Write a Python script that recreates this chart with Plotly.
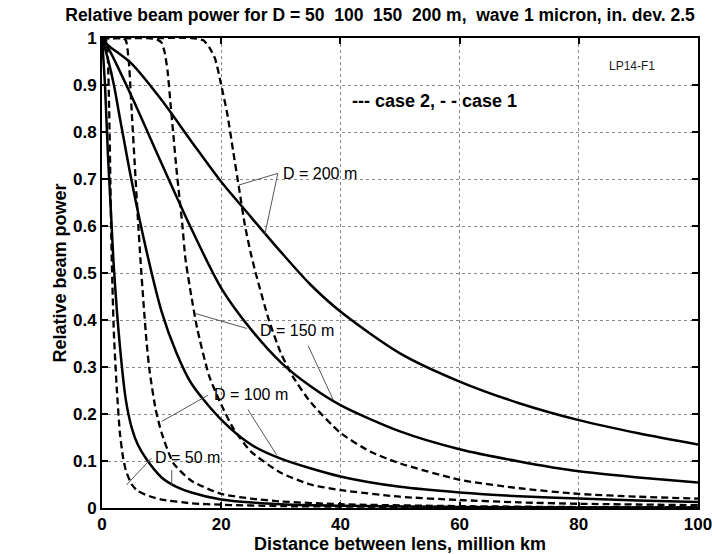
import plotly.graph_objects as go

# ---------------- data ----------------
x_ticks = [0, 20, 40, 60, 80, 100]
x_tick_labels = ['0', '20', '40', '60', '80', '100']
y_ticks = [0, 0.1, 0.2, 0.3, 0.4, 0.5, 0.6, 0.7, 0.8, 0.9, 1.0]
y_tick_labels = ['0', '0.1', '0.2', '0.3', '0.4', '0.5', '0.6', '0.7', '0.8', '0.9', '1']

# case 2 (solid)
c2_d200_x = [0, 1, 5, 10, 15, 20, 25, 30, 35, 40, 50, 60, 70, 80, 90, 100]
c2_d200_y = [1.0, 0.985, 0.945, 0.868, 0.78, 0.694, 0.619, 0.545, 0.475, 0.418, 0.329, 0.269, 0.223, 0.187, 0.159, 0.135]

c2_d150_x = [0, 1, 5, 10, 15, 20, 25, 30, 35, 40, 50, 60, 70, 80, 90, 100]
c2_d150_y = [1.0, 0.98, 0.875, 0.733, 0.594, 0.468, 0.38, 0.31, 0.259, 0.219, 0.163, 0.125, 0.099, 0.078, 0.065, 0.054]

c2_d100_x = [0, 1, 2, 3, 5, 7.5, 10, 12.5, 15, 20, 25, 30, 40, 50, 60, 70, 80, 90, 100]
c2_d100_y = [1.0, 0.955, 0.9, 0.83, 0.694, 0.545, 0.418, 0.33, 0.265, 0.188, 0.135, 0.105, 0.067, 0.045, 0.033, 0.025, 0.02, 0.016, 0.013]

c2_d50_x = [0, 0.5, 1, 1.5, 2, 3, 4, 5, 6, 7.5, 10, 12.5, 15, 20, 30, 40, 60, 80, 100]
c2_d50_y = [1.0, 0.9, 0.75, 0.63, 0.51, 0.345, 0.23, 0.17, 0.135, 0.103, 0.065, 0.045, 0.033, 0.018, 0.008, 0.005, 0.002, 0.0013, 0.001]

# case 1 (dashed)
c1_d200_x = [0, 10, 15, 17, 18, 19, 20, 21, 22, 23, 24, 25, 26, 28, 30, 32, 35, 40, 45, 50, 60, 70, 80, 90, 100]
c1_d200_y = [1, 1, 1, 0.995, 0.98, 0.955, 0.90, 0.84, 0.76, 0.68, 0.60, 0.54, 0.49, 0.40, 0.33, 0.28, 0.225, 0.16, 0.12, 0.095, 0.06, 0.042, 0.03, 0.024, 0.02]

c1_d150_x = [0, 5, 8, 9.5, 10, 10.5, 11, 11.5, 12, 12.5, 13, 13.5, 14, 15, 16, 18, 20, 22, 25, 30, 35, 40, 50, 60, 70, 80, 100]
c1_d150_y = [1, 1, 1, 0.995, 0.99, 0.97, 0.93, 0.86, 0.79, 0.72, 0.66, 0.60, 0.53, 0.45, 0.38, 0.28, 0.22, 0.17, 0.12, 0.075, 0.05, 0.038, 0.024, 0.017, 0.012, 0.009, 0.006]

c1_d100_x = [0, 2, 3.5, 4, 4.5, 5, 5.5, 6, 6.5, 7, 7.5, 8, 9, 10, 12, 15, 20, 25, 30, 40, 60, 80, 100]
c1_d100_y = [1, 1, 1, 0.995, 0.95, 0.84, 0.73, 0.62, 0.52, 0.43, 0.35, 0.29, 0.21, 0.16, 0.095, 0.058, 0.03, 0.02, 0.014, 0.008, 0.004, 0.002, 0.0015]

c1_d50_x = [0, 0.5, 0.8, 1.0, 1.2, 1.4, 1.6, 1.8, 2, 2.5, 3, 3.5, 4, 5, 6, 8, 10, 15, 20, 30, 40, 60, 100]
c1_d50_y = [1, 1, 0.99, 0.95, 0.85, 0.70, 0.55, 0.45, 0.37, 0.25, 0.16, 0.11, 0.08, 0.05, 0.036, 0.025, 0.018, 0.01, 0.007, 0.004, 0.003, 0.002, 0.001]

# labels with leader lines: (text, text_x, text_y, [(x0,y0,x1,y1), ...])
labels = [
    ('D = 200 m', 30.1, 0.712, [(29.5, 0.712, 22.9, 0.687), (29.5, 0.712, 27.3, 0.581)]),
    ('D = 150 m', 26.2, 0.377, [(24.3, 0.382, 15.6, 0.414), (34.6, 0.345, 38.8, 0.230)]),
    ('D = 100 m', 18.4, 0.242, [(17.8, 0.240, 10.0, 0.184), (24.5, 0.209, 29.3, 0.113)]),
    ('D = 50 m', 8.6, 0.107, [(8.3, 0.106, 4.1, 0.049), (11.7, 0.081, 11.7, 0.049)]),
]

FONT = 'Liberation Sans, Arial, sans-serif'

fig = go.Figure()

solid = [(c2_d200_x, c2_d200_y), (c2_d150_x, c2_d150_y), (c2_d100_x, c2_d100_y), (c2_d50_x, c2_d50_y)]
dashed = [(c1_d200_x, c1_d200_y), (c1_d150_x, c1_d150_y), (c1_d100_x, c1_d100_y), (c1_d50_x, c1_d50_y)]

for xs, ys in solid:
    fig.add_trace(go.Scatter(x=xs, y=ys, mode='lines',
                             line=dict(color='black', width=2.5, shape='spline', smoothing=0.8),
                             showlegend=False, hoverinfo='skip'))
for xs, ys in dashed:
    fig.add_trace(go.Scatter(x=xs, y=ys, mode='lines',
                             line=dict(color='black', width=2.3, dash='7px,4px', shape='spline', smoothing=0.6),
                             showlegend=False, hoverinfo='skip'))

for text, tx, ty, leaders in labels:
    for (x0, y0, x1, y1) in leaders:
        fig.add_shape(type='line', x0=x0, y0=y0, x1=x1, y1=y1, xref='x', yref='y',
                      line=dict(color='#555555', width=1))
    fig.add_annotation(x=tx, y=ty, text=text, showarrow=False, xanchor='left', yanchor='middle',
                       font=dict(family=FONT, size=16, color='black'), bgcolor='rgba(0,0,0,0)')

fig.add_annotation(x=41.6, y=0.866, text='--- case 2, - - case 1', showarrow=False,
                   xanchor='left', yanchor='middle',
                   font=dict(family=FONT, size=18, color='black', weight='bold'))
fig.add_annotation(x=89, y=0.94, text='LP14-F1', showarrow=False,
                   xanchor='center', yanchor='middle',
                   font=dict(family=FONT, size=12, color='#222222'))

axis_common = dict(showline=True, linecolor='black', linewidth=2, mirror='ticks',
                   ticks='inside', ticklen=6, tickwidth=1.5, tickcolor='black',
                   showgrid=True, gridcolor='#888888', gridwidth=1, griddash='dot',
                   zeroline=False, automargin=False, ticklabeloverflow='allow',
                   tickfont=dict(family=FONT, size=17, color='black', weight='bold'))

fig.update_xaxes(range=[0, 100], tickvals=x_ticks, ticktext=x_tick_labels,
                 title=dict(text='Distance between lens, million km', standoff=2,
                            font=dict(family=FONT, size=18, color='black', weight='bold')),
                 **axis_common)
fig.update_yaxes(range=[0, 1], tickvals=y_ticks, ticktext=y_tick_labels,
                 title=dict(text='Relative beam power', standoff=2,
                            font=dict(family=FONT, size=18, color='black', weight='bold')),
                 **axis_common)

fig.update_layout(
    width=712, height=554,
    margin=dict(l=102, r=14, t=38, b=46),
    paper_bgcolor='white', plot_bgcolor='white',
    title=dict(text='Relative beam power for D = 50&nbsp;&nbsp;100&nbsp;&nbsp;150&nbsp;&nbsp;200 m,&nbsp;&nbsp;wave 1 micron, in. dev. 2.5',
               x=380 / 712, xanchor='center', xref='container', y=1 - 15 / 554, yanchor='middle', yref='container',
               font=dict(family=FONT, size=17.5, color='black', weight='bold')),
)

fig.write_html('out.html')
